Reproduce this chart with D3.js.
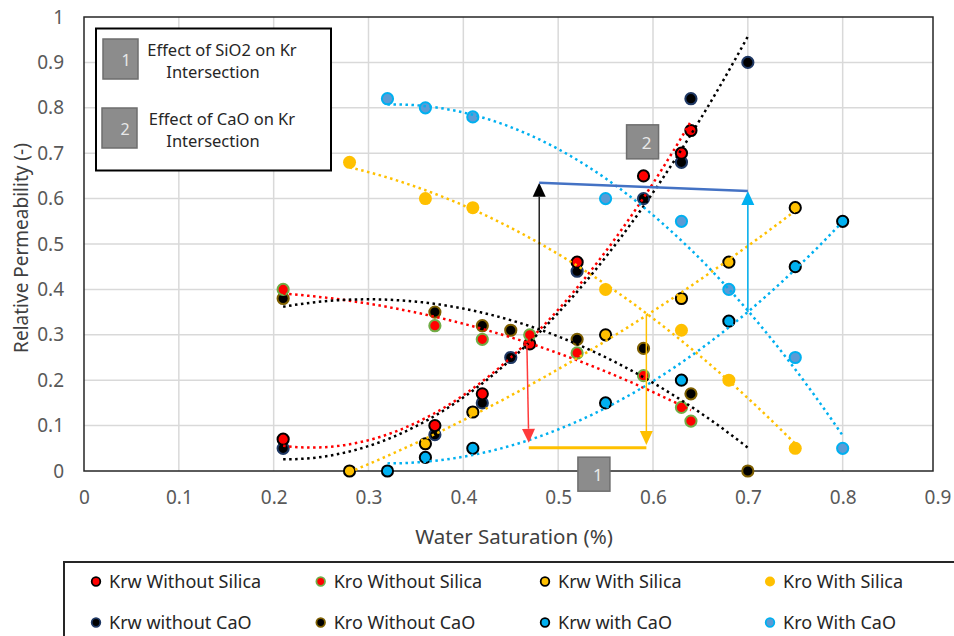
<!DOCTYPE html>
<html><head><meta charset="utf-8">
<script src="https://cdn.jsdelivr.net/npm/d3@7"></script>
<style>body{margin:0;background:#fff}svg{display:block}text{font-family:"Noto Sans",sans-serif}</style>
</head><body><svg id="c" width="954" height="636"></svg>
<script>
// ---- data ----
const xTicks = [0,0.1,0.2,0.3,0.4,0.5,0.6,0.7,0.8,0.9];
const yTicks = [0,0.1,0.2,0.3,0.4,0.5,0.6,0.7,0.8,0.9,1];
const krwWithoutSilicaX = [0.21,0.37,0.42,0.47,0.52,0.59,0.63,0.64];
const krwWithoutSilicaY = [0.07,0.10,0.17,0.28,0.46,0.65,0.70,0.75];
const kroWithoutSilicaX = [0.21,0.37,0.42,0.47,0.52,0.59,0.63,0.64];
const kroWithoutSilicaY = [0.40,0.32,0.29,0.30,0.26,0.21,0.14,0.11];
const krwWithSilicaX = [0.28,0.36,0.41,0.55,0.63,0.68,0.75];
const krwWithSilicaY = [0.00,0.06,0.13,0.30,0.38,0.46,0.58];
const kroWithSilicaX = [0.28,0.36,0.41,0.55,0.63,0.68,0.75];
const kroWithSilicaY = [0.68,0.60,0.58,0.40,0.31,0.20,0.05];
const krwWithoutCaOX = [0.21,0.37,0.42,0.45,0.52,0.59,0.63,0.64,0.70];
const krwWithoutCaOY = [0.05,0.08,0.15,0.25,0.44,0.60,0.68,0.82,0.90];
const kroWithoutCaOX = [0.21,0.37,0.42,0.45,0.52,0.59,0.64,0.70];
const kroWithoutCaOY = [0.38,0.35,0.32,0.31,0.29,0.27,0.17,0.00];
const krwWithCaOX = [0.32,0.36,0.41,0.55,0.63,0.68,0.75,0.80];
const krwWithCaOY = [0.00,0.03,0.05,0.15,0.20,0.33,0.45,0.55];
const kroWithCaOX = [0.32,0.36,0.41,0.55,0.63,0.68,0.75,0.80];
const kroWithCaOY = [0.82,0.80,0.78,0.60,0.55,0.40,0.25,0.05];
const seriesNames = ["Krw Without Silica","Kro Without Silica","Krw With Silica","Kro With Silica",
                     "Krw without CaO","Kro Without CaO","Krw with CaO","Kro With CaO"];
// annotation values (data units)
const blackArrow = [[0.48,0.31],[0.48,0.635]];
const blueLine = [[0.48,0.635],[0.70,0.617]];
const cyanArrow = [[0.70,0.35],[0.70,0.617]];
const redArrow = [[0.467,0.28],[0.469,0.062]];
const goldLine = [[0.469,0.051],[0.593,0.051]];
const goldArrow = [[0.593,0.344],[0.593,0.057]];
const boxLabels = [{t:"1",x:0.5377,y:-0.007},{t:"2",x:0.589,y:0.725}];

// ---- styles ----
const styles = [
 {fill:"#FF0000",stroke:"#000000",trend:"#FF0000"},
 {fill:"#FF0000",stroke:"#70AD47",trend:"#FF0000"},
 {fill:"#FFC000",stroke:"#000000",trend:"#FFC000"},
 {fill:"#FFC000",stroke:"none",trend:"#FFC000"},
 {fill:"#000000",stroke:"#1F3864",trend:"#000000"},
 {fill:"#000000",stroke:"#7F6000",trend:"#000000"},
 {fill:"#00B0F0",stroke:"#000000",trend:"#00B0F0"},
 {fill:"#5B9BD5",stroke:"#00B0F0",trend:"#00B0F0"}
];
const allX=[krwWithoutSilicaX,kroWithoutSilicaX,krwWithSilicaX,kroWithSilicaX,krwWithoutCaOX,kroWithoutCaOX,krwWithCaOX,kroWithCaOX];
const allY=[krwWithoutSilicaY,kroWithoutSilicaY,krwWithSilicaY,kroWithSilicaY,krwWithoutCaOY,kroWithoutCaOY,krwWithCaOY,kroWithCaOY];
const series = seriesNames.map((n,i)=>({name:n,pts:allX[i].map((x,j)=>({x,y:allY[i][j]})),...styles[i]}));

const svg=d3.select("#c");
const L=84,R=933,T=17,B=471;
const x=d3.scaleLinear().domain([0,0.9]).range([84,937.5]);
const y=d3.scaleLinear().domain([0,1]).range([B,T]);

// grid
svg.append("g").selectAll("line").data(xTicks.filter(v=>v>0&&v<0.9)).join("line")
 .attr("x1",d=>x(d)).attr("x2",d=>x(d)).attr("y1",T).attr("y2",B)
 .attr("stroke","#D9D9D9").attr("stroke-width",1.5);
svg.append("g").selectAll("line").data(yTicks.filter(v=>v>0&&v<1)).join("line")
 .attr("x1",L).attr("x2",R).attr("y1",d=>y(d)).attr("y2",d=>y(d))
 .attr("stroke","#D9D9D9").attr("stroke-width",1.5);

// axes labels via d3 axes
const yAxis=svg.append("g").attr("transform",`translate(${L},0)`)
 .call(d3.axisLeft(y).tickValues(yTicks).tickFormat(d3.format("~g")).tickSize(0).tickPadding(20));
yAxis.select(".domain").remove();
yAxis.selectAll("text").attr("font-size",19).attr("fill","#595959").attr("font-family","Noto Sans");
const xAxis=svg.append("g").attr("transform",`translate(0,${B})`)
 .call(d3.axisBottom(x).tickValues(xTicks).tickFormat(d3.format("~g")).tickSize(0).tickPadding(20));
xAxis.select(".domain").remove();
xAxis.selectAll("text").attr("font-size",19).attr("fill","#595959").attr("font-family","Noto Sans");

// frame
svg.append("rect").attr("x",L).attr("y",T).attr("width",R-L).attr("height",B-T)
 .attr("fill","none").attr("stroke","#262626").attr("stroke-width",1.5);

// titles
svg.append("text").attr("x",514).attr("y",544).attr("text-anchor","middle").attr("font-size",20.5).attr("fill","#404040").text("Water Saturation (%)");
svg.append("text").attr("transform","translate(28,248) rotate(-90)").attr("text-anchor","middle").attr("font-size",19).attr("fill","#404040").text("Relative Permeability (-)");

// markers (CaO series below silica series)
const drawOrder=[4,5,6,7,0,1,2,3];
drawOrder.forEach(i=>{
 const s=series[i];
 svg.append("g").selectAll("circle").data(s.pts).join("circle")
  .attr("cx",d=>x(d.x)).attr("cy",d=>y(d.y)).attr("r",s.stroke==="none"?6.5:5.6)
  .attr("fill",s.fill).attr("stroke",s.stroke).attr("stroke-width",s.stroke==="none"?0:2);
});

// quadratic trendlines (least squares)
function quadFit(pts){
 let S=[0,0,0,0,0],Ty=[0,0,0];
 pts.forEach(p=>{let xp=1;for(let k=0;k<5;k++){S[k]+=xp;if(k<3)Ty[k]+=xp*p.y;xp*=p.x;}});
 const A=[[S[0],S[1],S[2],Ty[0]],[S[1],S[2],S[3],Ty[1]],[S[2],S[3],S[4],Ty[2]]];
 for(let c=0;c<3;c++){let piv=c;for(let r=c+1;r<3;r++)if(Math.abs(A[r][c])>Math.abs(A[piv][c]))piv=r;[A[c],A[piv]]=[A[piv],A[c]];
  for(let r=0;r<3;r++)if(r!==c){const f=A[r][c]/A[c][c];for(let k=c;k<4;k++)A[r][k]-=f*A[c][k];}}
 const co=[A[0][3]/A[0][0],A[1][3]/A[1][1],A[2][3]/A[2][2]];
 return v=>co[0]+co[1]*v+co[2]*v*v;
}
const line=d3.line().x(d=>x(d[0])).y(d=>y(d[1])).curve(d3.curveLinear);
series.forEach(s=>{
 const f=quadFit(s.pts);
 const [x0,x1]=d3.extent(s.pts,d=>d.x);
 const samples=d3.range(0,81).map(k=>{const v=x0+(x1-x0)*k/80;return [v,f(v)];});
 svg.append("path").attr("d",line(samples)).attr("fill","none").attr("stroke",s.trend)
  .attr("stroke-width",2.5).attr("stroke-dasharray","2.5,3.5");
});

// annotations
function arrow(pts,color,w){
 const [a,b]=pts;const x1=x(a[0]),y1=y(a[1]),x2=x(b[0]),y2=y(b[1]);
 const ang=Math.atan2(y2-y1,x2-x1),hl=14,hw=6.5;
 const bx=x2-hl*Math.cos(ang),by=y2-hl*Math.sin(ang);
 svg.append("line").attr("x1",x1).attr("y1",y1).attr("x2",bx).attr("y2",by).attr("stroke",color).attr("stroke-width",w);
 svg.append("path").attr("d",`M${x2},${y2}L${bx+hw*Math.sin(ang)},${by-hw*Math.cos(ang)}L${bx-hw*Math.sin(ang)},${by+hw*Math.cos(ang)}Z`).attr("fill",color);
}
arrow(blackArrow,"#000000",1.3);
arrow(cyanArrow,"#00B0F0",1.5);
arrow(redArrow,"#FF3B3B",1.5);
arrow(goldArrow,"#FFC000",1.5);
svg.append("line").attr("x1",x(blueLine[0][0])).attr("y1",y(blueLine[0][1])).attr("x2",x(blueLine[1][0])).attr("y2",y(blueLine[1][1]))
 .attr("stroke","#4472C4").attr("stroke-width",2.5);
svg.append("line").attr("x1",x(goldLine[0][0])).attr("y1",y(goldLine[0][1])).attr("x2",x(goldLine[1][0])).attr("y2",y(goldLine[1][1]))
 .attr("stroke","#FFC000").attr("stroke-width",3);

boxLabels.forEach(b=>{
 const cx=x(b.x),cy=y(b.y);
 svg.append("rect").attr("x",cx-16).attr("y",cy-17).attr("width",32).attr("height",34).attr("fill","#8C8C8C").attr("stroke","#6E6E6E").attr("stroke-width",1.5);
 svg.append("text").attr("x",cx+4).attr("y",cy+7).attr("text-anchor","middle").attr("font-size",17).attr("fill","#E8E8E8").text(b.t);
});

// top-left legend box
svg.append("rect").attr("x",96).attr("y",28.5).attr("width",235).attr("height",142).attr("fill","#fff").attr("stroke","#000").attr("stroke-width",2);
[{t:"1",y:39,l1:"Effect of SiO2 on Kr"},{t:"2",y:108,l1:"Effect of CaO on Kr"}].forEach((e,i)=>{
 svg.append("rect").attr("x",103-i).attr("y",e.y).attr("width",35).attr("height",40).attr("fill","#8C8C8C").attr("stroke","#6E6E6E").attr("stroke-width",1.5);
 svg.append("text").attr("x",126-i).attr("y",e.y+27).attr("text-anchor","middle").attr("font-size",16).attr("fill","#E8E8E8").text(e.t);
 svg.append("text").attr("x",222).attr("y",e.y+17).attr("text-anchor","middle").attr("font-size",16.5).attr("fill","#262626").text(e.l1);
 svg.append("text").attr("x",213).attr("y",e.y+39).attr("text-anchor","middle").attr("font-size",16.5).attr("fill","#262626").text("Intersection");
});

// bottom legend
svg.append("rect").attr("x",64).attr("y",562).attr("width",900).attr("height",90).attr("fill","#fff").attr("stroke","#262626").attr("stroke-width",2);
const colX=[96,320.7,545,770], rowY=[581.5,622.5];
series.forEach((s,i)=>{
 const cx=colX[i%4], cy=rowY[Math.floor(i/4)];
 svg.append("circle").attr("cx",cx).attr("cy",cy).attr("r",s.stroke==="none"?5:4.3)
  .attr("fill",s.fill).attr("stroke",s.stroke).attr("stroke-width",s.stroke==="none"?0:1.8);
 svg.append("text").attr("x",cx+13).attr("y",cy+6.5).attr("font-size",18).attr("fill","#262626").text(s.name);
});
</script></body></html>
